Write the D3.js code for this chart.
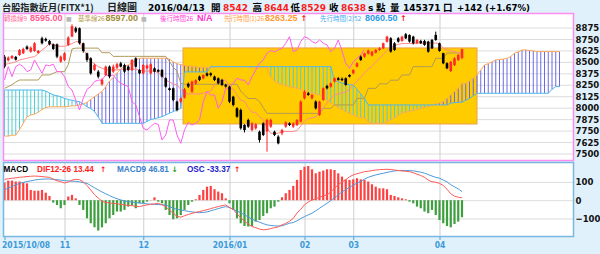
<!DOCTYPE html>
<html><head><meta charset="utf-8">
<script src="https://cdn.jsdelivr.net/npm/d3@7"></script>
<style>
body{margin:0;background:#e1f1fb;}
svg{display:block;}
</style></head><body>
<div id="chart"></div>
<script>
// candles, 2015/10/08 .. 2016/04/13
var opens = [8557,8517,8539,8554,8575,8594,8666,8612,8619,8597,8757,8750,8728,8692,8692,8503,8521,8685,8776,8867,
8867,8703,8594,8539,8412,8393,8255,8357,8448,8393,8437,8484,8466,8448,8412,8539,8412,8375,8430,8375,
8430,8412,8412,8321,8212,8212,8066,8066,8110,8260,8175,8265,8340,8320,8375,8375,8339,8320,8303,8250,
8230,8120,7993,7975,7811,7866,7756,7775,7738,7829,7740,7793,7738,7684,7720,7793,7829,7793,7811,7847,
8102,8157,8102,8066,7920,8084,8237,8230,8285,8321,8315,8321,8357,8375,8448,8557,8557,8590,8570,8600,
8630,8648,8720,8757,8703,8757,8728,8801,8794,8775,8703,8728,8728,8721,8739,8794,8703,8594,8485,8400,
8465,8521,8542];
var highs = [8575,8560,8575,8565,8640,8655,8680,8668,8715,8630,8775,8765,8740,8700,8700,8570,8605,8780,8910,8885,
8875,8710,8600,8550,8480,8410,8320,8460,8460,8470,8490,8500,8480,8460,8530,8550,8420,8475,8470,8485,
8440,8420,8420,8330,8220,8220,8075,8110,8215,8275,8295,8310,8350,8365,8385,8385,8350,8330,8315,8260,
8240,8130,8005,7990,7820,7880,7840,7830,7750,7840,7880,7880,7750,7700,7770,7850,7840,7840,7875,8080,
8190,8170,8150,8080,8075,8220,8250,8275,8330,8335,8330,8330,8365,8420,8495,8570,8600,8635,8620,8640,
8660,8710,8785,8770,8715,8770,8785,8815,8800,8785,8750,8740,8740,8730,8750,8830,8710,8600,8495,8510,
8550,8585,8644];
var lows = [8430,8505,8530,8515,8565,8585,8630,8600,8610,8590,8690,8720,8680,8630,8540,8490,8510,8675,8770,8815,
8690,8600,8500,8360,8400,8320,8240,8345,8320,8380,8420,8440,8380,8400,8400,8440,8365,8365,8420,8365,
8385,8385,8330,8220,8185,8070,7960,8050,8100,8215,8160,8250,8290,8310,8340,8340,8290,8255,8235,8220,
8050,8015,7890,7760,7730,7780,7740,7760,7620,7690,7520,7780,7690,7600,7700,7780,7800,7780,7800,7840,
8090,8130,8090,7980,7910,8075,8200,8220,8275,8295,8290,8240,8330,8365,8440,8510,8545,8580,8560,8590,
8620,8640,8710,8600,8620,8710,8720,8750,8710,8690,8695,8695,8675,8600,8640,8730,8610,8475,8420,8390,
8455,8510,8529];
var closes = [8448,8546,8564,8524,8630,8641,8641,8655,8703,8619,8703,8732,8692,8641,8557,8557,8594,8765,8890,8830,
8703,8619,8521,8375,8466,8339,8302,8448,8339,8448,8474,8448,8393,8412,8521,8448,8375,8466,8459,8474,
8393,8393,8339,8230,8193,8084,7975,8102,8200,8230,8285,8300,8303,8357,8350,8357,8302,8266,8248,8230,
8066,8030,7902,7775,7756,7793,7829,7818,7647,7702,7866,7866,7702,7611,7756,7840,7811,7829,7866,8066,
8175,8139,8139,7993,8066,8212,8212,8266,8321,8303,8300,8248,8339,8412,8484,8521,8594,8625,8610,8630,
8648,8703,8775,8612,8630,8721,8775,8757,8721,8703,8739,8703,8685,8612,8648,8739,8619,8485,8430,8500,
8539,8575,8638];

// ichimoku lines
var tenkan = [8470,8480,8490,8500,8520,8530,8540,8550,8557,8590,8630,8660,8700,8690,8670,8670,8670,8680,8700,8720,
8720,8630,8580,8503,8480,8448,8430,8412,8412,8412,8412,8420,8420,8420,8420,8420,8410,8400,8400,8400,
8400,8380,8350,8302,8280,8260,8248,8200,8160,8150,8150,8150,8150,8160,8170,8180,8250,8280,8300,8300,
8220,8200,8140,8080,8070,8000,7950,7950,7900,7870,7780,7720,7720,7720,7740,7740,7740,7740,7750,7800,
7850,7880,7890,7900,7950,8000,8050,8100,8140,8150,8160,8170,8200,8250,8290,8330,8380,8420,8450,8500,
8540,8580,8620,8660,8680,8690,8700,8700,8700,8700,8705,8705,8705,8705,8705,8705,8700,8650,8630,8620,
8615,8600,8595];
var kijun = [8211,8230,8250,8280,8302,8302,8302,8302,8302,8302,8357,8357,8357,8375,8393,8393,8393,8470,8640,8650,
8650,8650,8650,8650,8650,8650,8600,8600,8600,8560,8560,8560,8560,8560,8560,8560,8560,8560,8560,8560,
8560,8560,8560,8560,8503,8440,8400,8266,8255,8255,8255,8255,8255,8255,8255,8255,8255,8255,8255,8255,
8255,8255,8255,8180,8139,8100,8100,8100,8066,8000,7938,7938,7938,7938,7938,7938,7938,7938,7938,7938,
7938,7938,7938,7938,7938,7993,7993,7993,8030,8030,8030,8030,8030,8030,8102,8102,8102,8211,8211,8211,
8260,8260,8260,8300,8300,8300,8357,8357,8357,8448,8448,8448,8448,8448,8448,8539,8539,8539,8597,8597,
8597,8597,8597];
var spanA = [7690,7690,7700,7700,7760,7830,7900,7920,7930,7950,7980,8000,8010,8010,8010,8010,8010,8015,8020,8020,
8030,8040,8060,8090,8120,8150,8175,8230,8290,8330,8380,8420,8450,8466,8490,8520,8539,8540,8540,8540,
8540,8540,8540,8540,8530,8500,8480,8470,8460,8455,8450,8445,8440,8440,8440,8440,8440,8445,8445,8445,
8445,8445,8445,8445,8445,8440,8440,8440,8440,8440,8440,8330,8290,8266,8250,8240,8230,8220,8211,8200,
8180,8170,8160,8150,8139,8110,8080,8050,8030,8000,7980,7957,7940,7920,7900,7890,7884,7850,7829,7829,
7829,7829,7845,7866,7890,7915,7939,7950,7960,7970,7980,7993,8000,8010,8030,8040,8050,8066,8100,8140,
8175,8210,8263,8266,8290,8321,8357,8410,8466,8480,8500,8521,8525,8530,8539,8560,8594,8610,8630,8630,
8625,8620,8612,8612,8612,8612,8612,8612,8612];
var spanB = [8193,8193,8193,8193,8193,8193,8193,8193,8193,8193,8193,8180,8160,8140,8130,8120,8100,8090,8080,8070,
8066,8040,8010,7990,7957,7900,7829,7829,7829,7829,7829,7829,7829,7829,7829,7829,7829,7829,7850,7870,
7880,7890,7902,7920,7940,7957,7975,7993,8390,8390,8390,8390,8390,8390,8390,8448,8448,8448,8448,8448,
8448,8448,8448,8448,8448,8448,8448,8448,8448,8448,8448,8448,8448,8448,8448,8448,8448,8448,8448,8448,
8448,8448,8448,8448,8448,8448,8448,8448,8300,8284,8270,8260,8250,8248,8200,8150,8100,8030,8030,8030,
8030,8030,8030,8030,8030,8030,8030,8030,8030,8030,8030,8030,8030,8030,8030,8030,8030,8030,8030,8050,
8055,8058,8060,8080,8100,8130,8157,8157,8157,8157,8157,8157,8157,8157,8157,8157,8157,8157,8157,8157,
8157,8157,8157,8157,8157,8157,8200,8230,8230];
var chikouShift = 26;

// highlighted box: index range and price range
var boxIdx = [47.6, 126];
var boxPrice = [7822, 8652];

// MACD panel
var dif = [114,117,120,122,125,127,129,131,132,131,129,127,125,115,106,101,94,100,110,114,
112,101,80,56,30,12,-6,-12,-15,-17,-20,-23,-26,-28,-30,-33,-35,-30,-26,-22,
-20,-17,-25,-35,-55,-71,-88,-93,-85,-78,-72,-66,-62,-57,-52,-46,-40,-35,-30,-26,
-40,-50,-75,-95,-115,-130,-144,-150,-158,-162,-160,-155,-150,-146,-135,-127,-115,-99,-70,-50,
-25,-10,1,8,15,25,29,45,65,85,100,112,128,138,145,150,156,158,162,165,
167,168,169,168,165,162,160,158,156,150,142,135,125,110,101,98,92,80,60,35,
22,16,13.44];
var macd9 = [56,66,75,84,92,97,102,106,110,113,115,116,116,114,112,110,107,105,104,103,
100,96,92,80,68,56,45,35,25,16,8,2,-5,-8,-10,-13,-15,-17,-20,-22,
-23,-24,-25,-26,-35,-44,-50,-53,-57,-61,-64,-67,-68,-67,-64,-58,-52,-46,-40,-35,
-40,-50,-60,-68,-80,-92,-104,-112,-120,-128,-135,-138,-140,-141,-140,-133,-126,-122,-113,-100,
-90,-80,-71,-58,-44,-30,-17,-2,13,30,45,58,70,83,93,103,115,125,132,138,
143,147,152,156,160,162,162,162,162,160,157,153,148,140,132,125,120,110,100,85,
73,62,46.81];
var oscBars = [96,107,107,102,102,96,92,56,52,52,56,41,23,-13,-26,-44,-26,20,29,10,
-26,-53,-99,-126,-148,-166,-148,-126,-99,-81,-62,-62,-53,-35,-26,-44,-17,-17,-8,1,
16,-8,-17,-53,-81,-104,-99,-81,-53,-26,-8,5,29,56,74,78,60,47,38,10,
-17,-53,-99,-126,-141,-144,-141,-117,-108,-86,-71,-44,-35,-8,16,38,56,78,111,165,
183,187,169,147,156,162,169,169,165,147,129,114,111,114,120,114,111,102,87,74,
65,65,60,29,23,16,10,5,-8,-17,-35,-44,-62,-71,-53,-81,-108,-126,-141,-148,
-130,-117,-93];

var priceTicks = [7500,7625,7750,7875,8000,8125,8250,8375,8500,8625,8750,8875];
var macdTicks = [-100,0,100];
var monthIdx = [0,16,37,60,80,93,116];
var monthLabels = ["2015/10/08","11","12","2016/01","02","03","04"];

var w = 600, h = 254;
var px0 = 3.5, px1 = 573.5;
var mainTop = 13.5, mainBot = 160.5;
var macdTop = 162.5, macdBot = 236.5;

var x = d3.scaleLinear().domain([0, 151]).range([4.5, 4.5 + 151 * 3.75]);
var y = d3.scaleLinear().domain([7500, 8875]).range([153.5, 27.5]);
var ym = d3.scaleLinear().domain([-100, 100]).range([218.5, 181.9]);

var svg = d3.select("#chart").append("svg").attr("width", w).attr("height", h);
svg.append("rect").attr("width", w).attr("height", h).attr("fill", "#e1f1fb");

var defs = svg.append("defs");
defs.append("clipPath").attr("id", "clipMain").append("rect")
  .attr("x", px0).attr("y", mainTop).attr("width", px1 - px0).attr("height", mainBot - mainTop);
defs.append("clipPath").attr("id", "clipMacd").append("rect")
  .attr("x", px0).attr("y", macdTop).attr("width", px1 - px0).attr("height", macdBot - macdTop);

//panels
svg.append("rect").attr("x", px0).attr("y", mainTop).attr("width", px1 - px0).attr("height", mainBot - mainTop)
  .attr("fill", "#fff");
svg.append("rect").attr("x", px0).attr("y", macdTop).attr("width", px1 - px0).attr("height", macdBot - macdTop)
  .attr("fill", "#fff");

var main = svg.append("g").attr("clip-path", "url(#clipMain)");
var mac = svg.append("g").attr("clip-path", "url(#clipMacd)");

//grid
main.append("g").attr("transform", "translate(" + px0 + ",0)")
  .call(d3.axisLeft(y).tickValues(priceTicks).tickSize(-(px1 - px0)).tickFormat(""))
  .call(function(g){ g.select(".domain").remove(); g.selectAll("line").attr("stroke", "#dcdcdc"); });
main.append("g").attr("transform", "translate(0," + mainBot + ")")
  .call(d3.axisTop(x).tickValues(monthIdx.slice(1)).tickSize(mainBot - mainTop).tickFormat(""))
  .call(function(g){ g.select(".domain").remove(); g.selectAll("line").attr("stroke", "#cfcfcf"); });
mac.append("g").attr("transform", "translate(" + px0 + ",0)")
  .call(d3.axisLeft(ym).tickValues(macdTicks).tickSize(-(px1 - px0)).tickFormat(""))
  .call(function(g){ g.select(".domain").remove(); g.selectAll("line").attr("stroke", "#dcdcdc"); });
mac.append("g").attr("transform", "translate(0," + macdBot + ")")
  .call(d3.axisTop(x).tickValues(monthIdx.slice(1)).tickSize(macdBot - macdTop).tickFormat(""))
  .call(function(g){ g.select(".domain").remove(); g.selectAll("line").attr("stroke", "#cfcfcf"); });

//box
main.append("rect")
  .attr("x", x(boxIdx[0])).attr("y", y(boxPrice[1]))
  .attr("width", x(boxIdx[1]) - x(boxIdx[0])).attr("height", y(boxPrice[0]) - y(boxPrice[1]))
  .attr("fill", "#ffcc00").attr("stroke", "#e8a048").attr("stroke-width", 1);

//cloud
main.selectAll("line.cloud").data(d3.range(spanA.length)).enter().append("line")
  .attr("class", "cloud")
  .attr("x1", function(d){ return x(d); }).attr("x2", function(d){ return x(d); })
  .attr("y1", function(d){ return y(spanA[d]); }).attr("y2", function(d){ return y(spanB[d]); })
  .attr("stroke", function(d){ return spanA[d] >= spanB[d] ? "#6a6ae6" : "#4ccfd2"; })
  .attr("stroke-width", 1);

function drawLine(data, color, offset){
  var ln = d3.line().x(function(d, i){ return x(i + (offset || 0)); }).y(function(d){ return y(d); });
  main.append("path").datum(data).attr("d", ln).attr("fill", "none")
    .attr("stroke", color).attr("stroke-width", 1);
}
drawLine(spanA, "#ffa858");
drawLine(spanB, "#4cb8ee");
drawLine(kijun, "#b09a58");
drawLine(tenkan, "#ff8a8a");
drawLine(closes.slice(chikouShift), "#ff5cf0");

//candles
var cw = 2.6;
var candles = main.selectAll("g.candle").data(closes).enter().append("g").attr("class", "candle");
candles.append("line")
  .attr("x1", function(d, i){ return x(i); }).attr("x2", function(d, i){ return x(i); })
  .attr("y1", function(d, i){ return y(highs[i]); }).attr("y2", function(d, i){ return y(lows[i]); })
  .attr("stroke", function(d, i){ return d >= opens[i] ? "#ff2020" : "#000"; });
candles.append("rect")
  .attr("x", function(d, i){ return x(i) - cw / 2; })
  .attr("y", function(d, i){ return y(Math.max(d, opens[i])); })
  .attr("width", cw)
  .attr("height", function(d, i){ return Math.max(1, Math.abs(y(d) - y(opens[i]))); })
  .attr("fill", function(d, i){ return d >= opens[i] ? "#ff2a2a" : "#000"; });

//macd
mac.selectAll("rect.osc").data(oscBars).enter().append("rect")
  .attr("x", function(d, i){ return x(i) - 1.1; })
  .attr("y", function(d){ return ym(Math.max(0, d)); })
  .attr("width", 2.2)
  .attr("height", function(d){ return Math.abs(ym(d) - ym(0)); })
  .attr("fill", function(d){ return d >= 0 ? "#ff4040" : "#3c9e3c"; });
var mline = d3.line().x(function(d, i){ return x(i); }).y(function(d){ return ym(d); });
mac.append("path").datum(macd9).attr("d", mline).attr("fill", "none").attr("stroke", "#4c9ad8").attr("stroke-width", 1);
mac.append("path").datum(dif).attr("d", mline).attr("fill", "none").attr("stroke", "#ff5a5a").attr("stroke-width", 1);

//borders
svg.append("rect").attr("x", px0).attr("y", mainTop).attr("width", px1 - px0).attr("height", mainBot - mainTop)
  .attr("fill", "none").attr("stroke", "#ff8cf0").attr("stroke-width", 1.5);
svg.append("rect").attr("x", px0).attr("y", macdTop).attr("width", px1 - px0).attr("height", macdBot - macdTop)
  .attr("fill", "none").attr("stroke", "#78b8e0").attr("stroke-width", 1.5);

//axes labels
var axisFont = "'DejaVu Sans Condensed','DejaVu Sans',sans-serif";
svg.append("g").attr("transform", "translate(" + px1 + ",0)")
  .call(d3.axisRight(y).tickValues(priceTicks).tickSize(0).tickPadding(2).tickFormat(d3.format("d")))
  .call(function(g){
    g.select(".domain").remove();
    g.selectAll("text").attr("font-family", axisFont).attr("font-weight", "bold")
      .attr("font-size", 9.5).attr("fill", "#111");
  });
svg.append("g").attr("transform", "translate(" + px1 + ",0)")
  .call(d3.axisRight(ym).tickValues(macdTicks).tickSize(0).tickPadding(2).tickFormat(d3.format("d")))
  .call(function(g){
    g.select(".domain").remove();
    g.selectAll("text").attr("font-family", axisFont).attr("font-weight", "bold")
      .attr("font-size", 9.5).attr("fill", "#111");
  });
svg.append("g").attr("transform", "translate(0," + (macdBot + 0.5) + ")")
  .call(d3.axisBottom(x).tickValues(monthIdx).tickSize(3).tickPadding(2)
    .tickFormat(function(d, i){ return monthLabels[i]; }))
  .call(function(g){
    g.select(".domain").remove();
    g.selectAll("line").attr("stroke", "#4aa0dc");
    g.selectAll("text").attr("font-family", axisFont).attr("font-weight", "bold")
      .attr("font-size", 8.5).attr("fill", "#3d9ad8");
    g.select(".tick text").attr("text-anchor", "start").attr("dx", -3);
  });

//texts
var cjk = "'Noto Sans CJK TC','DejaVu Sans',sans-serif";
var lat = "'DejaVu Sans','Noto Sans CJK TC',sans-serif";
var nar = "'Liberation Sans','DejaVu Sans',sans-serif";
function txt(xp, yp, s, color, size, fam, weight){
  return svg.append("text").attr("x", xp).attr("y", yp).text(s)
    .attr("fill", color).attr("font-size", size)
    .attr("font-family", fam || lat).attr("font-weight", weight || "bold");
}
var red = "#ff1a1a";
var ty = 10.5;
txt(2, ty, "台股指數近月(FITX*1)", "#222", 9.2, cjk);
txt(107, ty, "日線圖", "#222", 10, cjk);
txt(148, ty, "2016/04/13", "#000", 9);
txt(211, ty, "開", "#000", 9.5, cjk);
txt(223, ty, "8542", red, 9);
txt(252.5, ty, "高", "#000", 9.5, cjk);
txt(264, ty, "8644", red, 9);
txt(290.5, ty, "低", "#000", 9.5, cjk);
txt(301, ty, "8529", red, 9);
txt(329, ty, "收", "#000", 9.5, cjk);
txt(341, ty, "8638", red, 9);
txt(368, ty, "s", "#000", 9);
txt(376, ty, "點", "#000", 9.5, cjk);
txt(390, ty, "量", "#000", 9.5, cjk);
txt(403, ty, "145371", "#000", 9);
txt(443, ty, "口", "#000", 9.5, cjk);
txt(457, ty, "+142 (+1.67%)", "#000", 8.6);

var ly = 20.5;
txt(4, ly, "轉換線9", "#ff70a0", 6.5, cjk, "normal");
txt(30, ly, "8595.00", "#ff5a8c", 9, nar);
txt(66, ly, "■", "#b8b8b8", 6, lat, "normal");
txt(78, ly, "基準線26", "#b8a050", 6.5, cjk, "normal");
txt(105.5, ly, "8597.00", "#a08a30", 9, nar);
txt(141, ly, "■", "#b8b8b8", 6, lat, "normal");
txt(160, ly, "後行時間26", "#ff40d8", 6.5, cjk, "normal");
txt(197, ly, "N/A", "#ff30d0", 9, nar);
txt(224, ly, "先行時間(1)26", "#ffa040", 6.3, cjk, "normal");
txt(265, ly, "8263.25", "#ff9a30", 9, nar);
txt(300.5, ly, "↑", red, 8, lat);
txt(320, ly, "先行時間(2)52", "#40aaf0", 6.5, cjk, "normal");
txt(365, ly, "8060.50", "#2898e8", 9, nar);
txt(400, ly, "↑", red, 8, lat);

var my = 172;
txt(3.5, my, "MACD", "#000", 8.2, nar);
txt(37, my, "DIF12-26 13.44", "#ff2020", 8.2, nar);
txt(100, my, "↑", red, 7.5, lat);
txt(117, my, "MACD9 46.81", "#3a7fd0", 8.2, nar);
txt(171.5, my, "↓", "#1a9a1a", 7.5, lat);
txt(187, my, "OSC -33.37", "#2020d0", 8.2, nar);
txt(234, my, "↑", red, 7.5, lat);
</script>
</body></html>
